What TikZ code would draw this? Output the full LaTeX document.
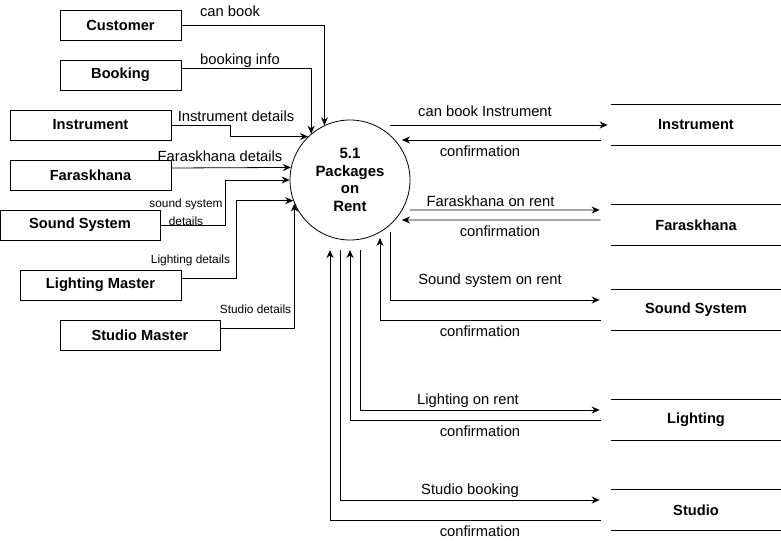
\documentclass[tikz,border=0pt]{standalone}
\usepackage{fontspec}
\setmainfont{Liberation Sans}
\usetikzlibrary{arrows.meta}

\begin{document}
\begin{tikzpicture}[line width=0.8pt,
    ent/.style={draw,minimum height=30bp,inner sep=0pt,font=\bfseries\fontsize{14.7}{16}\selectfont},
    store/.style={minimum width=170bp,minimum height=40bp,inner sep=0pt,font=\bfseries\fontsize{14.7}{16}\selectfont},
    flow/.style={inner sep=0pt,font=\fontsize{14.8}{16}\selectfont},
    small/.style={inner sep=0pt,align=center,font=\fontsize{11.9}{18}\selectfont},
    >={Stealth[length=8bp,width=7bp]}]
    \useasboundingbox (0bp,0bp) rectangle (781bp,-541bp);

    % process
    \node (pkg) at (350bp,-180bp)[draw,circle,minimum size=120bp,inner sep=0pt,align=center,font=\bfseries\fontsize{15}{17.7}\selectfont] {5.1\\Packages\\on\\Rent};

    % external entities
    \node (cust) at (120.5bp,-25bp)[ent,minimum width=121bp] {Customer};
    \node (book) at (120.5bp,-75bp)[ent,minimum width=121bp] {Booking};
    \node (inst) at (90.5bp,-125bp)[ent,minimum width=161bp] {Instrument};
    \node (far) at (90.5bp,-175bp)[ent,minimum width=161bp] {Faraskhana};
    \node (snd) at (80bp,-225bp)[ent,minimum width=160bp] {Sound System};
    \node (lm) at (100.5bp,-285bp)[ent,minimum width=161bp] {Lighting Master};
    \node (sm) at (140bp,-335bp)[ent,minimum width=160bp] {Studio Master};

    % data stores
    \node (sinst) at (696bp,-125bp)[store] {Instrument};
    \node (sfar) at (696bp,-225bp)[store] {Faraskhana};
    \node (ssnd) at (696bp,-310bp)[store] {Sound System};
    \node (slig) at (696bp,-420bp)[store] {Lighting};
    \node (sstu) at (696bp,-510bp)[store] {Studio};
    \foreach \s in {sinst,sfar,ssnd,slig,sstu}
        \draw (\s.north west) -- (\s.north east) (\s.south west) -- (\s.south east);

    % flows in
    \draw [->] (cust.east) -| (pkg.115);
    \node (lcust) at (230bp,-11bp)[flow] {can book};
    \draw [->] ([yshift=7bp]book.east) -| (pkg.130);
    \node (lbook) at (240bp,-61bp)[flow] {booking info};
    \draw [->] (inst.east) -- ++(59bp,0bp) |- (pkg.134);
    \node (linst) at (236bp,-116bp)[flow] {Instrument details};
    \draw [->] ([yshift=7bp]far.east) -- (pkg.168);
    \node (lfar) at (220bp,-156bp)[flow] {Faraskhana details};
    \draw [->] (snd.east) -- ++(65bp,0bp) |- (pkg.west);
    \node (lsnd) at (186bp,-212bp)[small] {sound system\\details};
    \draw [->] ([yshift=7bp]lm.east) -- ++(55bp,0bp) |- (pkg.200);
    \node (llm) at (190.5bp,-260bp)[small] {Lighting details};
    \draw [->] ([yshift=7bp]sm.east) -| (pkg.203);
    \node (lsm) at (255.5bp,-309bp)[small] {Studio details};

    % flows out and back
    \draw [->] ([xshift=40bp,yshift=55bp]pkg.center) -- ([xshift=-3bp]sinst.west);
    \node (lo1) at (485bp,-111bp)[flow] {can book Instrument};
    \draw [->] ([xshift=-10bp,yshift=-15bp]sinst.west) -- ([xshift=52bp,yshift=40bp]pkg.center);
    \node (lc1) at (480bp,-151bp)[flow] {confirmation};

    \draw [->] ([xshift=60bp,yshift=-30bp]pkg.center) -- ([xshift=-11bp,yshift=15bp]sfar.west);
    \node (lo2) at (490.5bp,-201bp)[flow] {Faraskhana on rent};
    \draw [->] ([xshift=-10bp,yshift=5bp]sfar.west) -- ([xshift=52bp,yshift=-40bp]pkg.center);
    \node (lc2) at (500bp,-231bp)[flow] {confirmation};

    \draw [->] ([xshift=40bp,yshift=-52bp]pkg.center) |- ([xshift=-11bp,yshift=10bp]ssnd.west);
    \node (lo3) at (490bp,-281bp)[flow] {Sound system on rent};
    \draw [->] ([xshift=-10bp,yshift=-10bp]ssnd.west) -| ([xshift=30bp,yshift=-58bp]pkg.center);
    \node (lc3) at (480bp,-331bp)[flow] {confirmation};

    \draw [->] ([xshift=10bp,yshift=-70bp]pkg.center) |- ([xshift=-11bp,yshift=10bp]slig.west);
    \node (lo4) at (468bp,-401bp)[flow] {Lighting on rent};
    \draw [->] ([xshift=-10bp]slig.west) -| ([yshift=-70bp]pkg.center);
    \node (lc4) at (480bp,-431bp)[flow] {confirmation};

    \draw [->] ([xshift=-10bp,yshift=-70bp]pkg.center) |- ([xshift=-11bp,yshift=10bp]sstu.west);
    \node (lo5) at (470bp,-491bp)[flow] {Studio booking};
    \draw [->] ([xshift=-10bp,yshift=-10bp]sstu.west) -| ([xshift=-20bp,yshift=-70bp]pkg.center);
    \node (lc5) at (480bp,-531bp)[flow] {confirmation};
\end{tikzpicture}
\end{document}
